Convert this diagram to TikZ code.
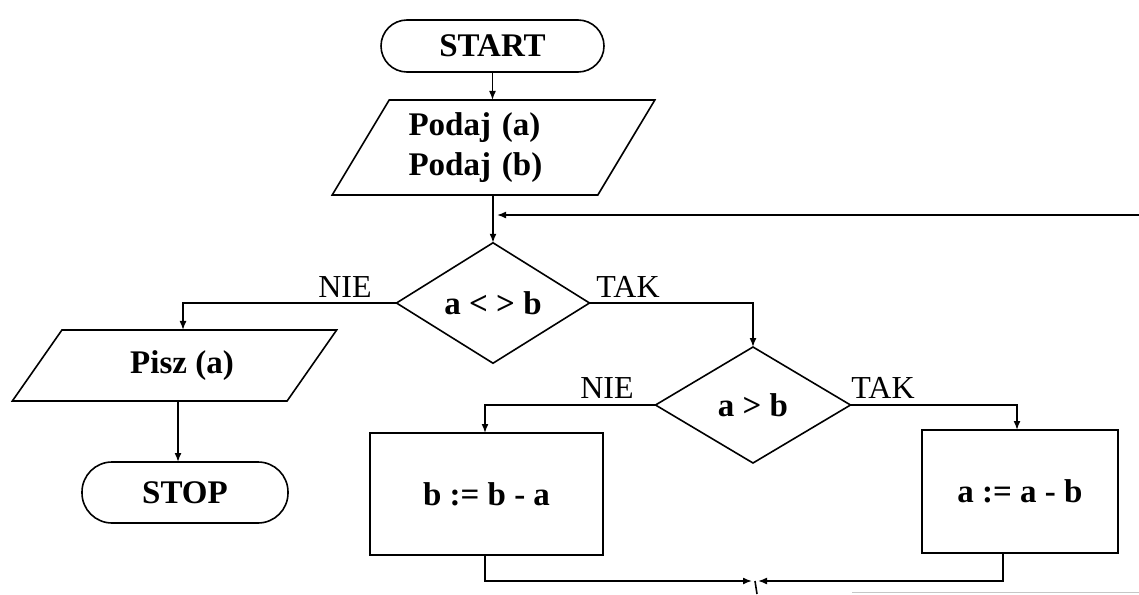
\documentclass[tikz,border=0pt]{standalone}
\usepackage{fontspec}
\setmainfont{Liberation Serif}
\usetikzlibrary{shapes.geometric,arrows.meta,calc}
\begin{document}
\begin{tikzpicture}[x=1pt,y=-1pt,
  line width=1.6pt,
  every node/.style={inner sep=0pt, outer sep=0pt},
  box/.style={draw, font=\fontsize{33}{40}\selectfont\bfseries},
  term/.style={box, rectangle, rounded corners=#1},
  io/.style={box, trapezium, trapezium stretches=true},
  cond/.style={box, diamond},
  proc/.style={box, rectangle},
  arr/.style={-{Latex[length=9pt,width=7pt]}},
  lbl/.style={font=\fontsize{32}{36}\selectfont}
]
\useasboundingbox (0,0) rectangle (1139,594);

% blocks
\node[term=26pt, minimum width=223, minimum height=52] (start) at (492.5,46) {START};
\node[io, trapezium left angle=56.4, trapezium right angle=123.6,
      minimum width=323, minimum height=95, text width=170pt, align=left] (podaj) at (493.5,147.5)
      {Podaj (a)\\Podaj (b)};
\node[cond, minimum width=193, minimum height=116] (d1) at (493,303) {a < > b};
\node[io, trapezium left angle=48.9, trapezium right angle=131.1,
      minimum width=325, minimum height=71] (pisz) at (174.5,365.5) {\hspace*{15pt}Pisz (a)};
\node[term=30pt, minimum width=206, minimum height=61] (stop) at (185,492.5) {STOP};
\node[cond, minimum width=195, minimum height=116] (d2) at (753,405) {a > b};
\node[proc, minimum width=233, minimum height=122] (boxL) at (486.5,494) {b := b - a};
\node[proc, minimum width=196, minimum height=123] (boxR) at (1020,491.5) {a := a - b};

% branch labels
\node[lbl] (nie1) at (345,287) {NIE};
\node[lbl] (tak1) at (628,287) {TAK};
\node[lbl] (nie2) at (607,388) {NIE};
\node[lbl] (tak2) at (883,388) {TAK};

% free ends
\coordinate (loopin) at (1139,215);
\coordinate (merge) at (755,581);
\coordinate (exit) at (757,594);

% connectors
\draw[arr] (start.south) -- (start.south |- podaj.north);
\draw[arr] (d1.north |- podaj.south) -- (d1.north);
\draw[arr] (loopin) -- ([xshift=4pt]loopin -| d1.north);
\draw[arr] (d1.west) -| ([xshift=8.5pt]pisz.north);
\draw[arr] ([xshift=3.5pt]pisz.south) -- ([xshift=3.5pt]pisz.south |- stop.north);
\draw[arr] (d1.east) -| (d2.north);
\draw[arr] (d2.west) -| ([xshift=-1.5pt]boxL.north);
\draw[arr] (d2.east) -| ([xshift=-3pt]boxR.north);
\draw[arr] ([xshift=-1.5pt]boxL.south) |- ([xshift=-3pt]merge);
\draw[arr] ([xshift=-17pt]boxR.south) |- ([xshift=3pt]merge);
\draw (merge) -- (exit);
\draw[gray!45, line width=1.2pt] (852,592.5) -- (1139,592.5);
\end{tikzpicture}
\end{document}
